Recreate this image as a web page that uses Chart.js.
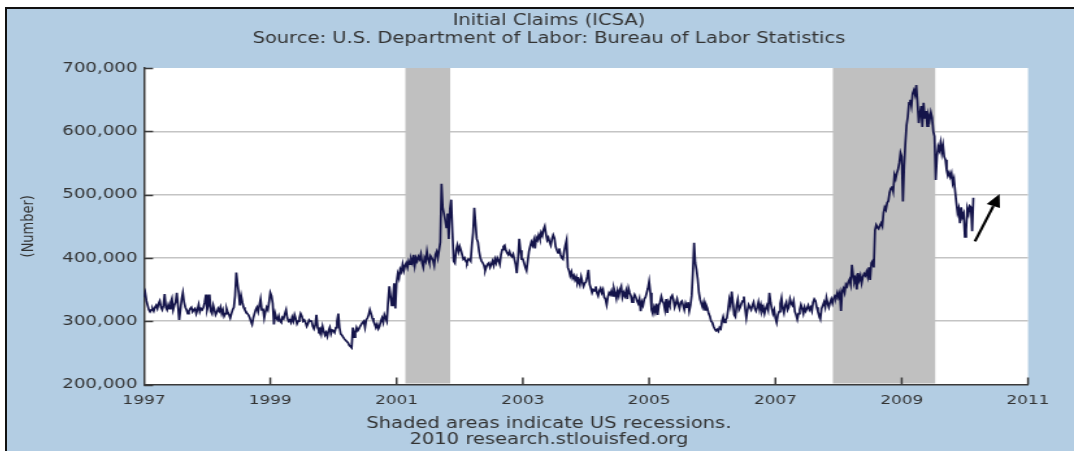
<!DOCTYPE html>
<html>
<head>
<meta charset="utf-8">
<script src="https://cdn.jsdelivr.net/npm/chart.js@4.4.1/dist/chart.umd.min.js"></script>
<style>
html,body{margin:0;padding:0;background:#fff;width:1076px;height:451px;overflow:hidden;}
#frame{position:absolute;left:5px;top:7px;width:1067px;height:442px;border-top:2px solid #111;border-left:2px solid #111;background:#b3cde3;overflow:hidden;}
#stretch{position:absolute;left:0;top:0;width:821px;height:442px;transform:scaleX(1.29963);transform-origin:0 0;}
</style>
</head>
<body>
<div id="frame"><div id="stretch"><canvas id="c" width="821" height="442"></canvas></div></div>
<script>
// Weekly initial claims, thousands
const claims1997 = [338,345,332,325,318,315,318,320,316,322,325,320,328,332,322,318,325,343,322,318,326,320,330,336,318,325,330,345,325,302,318,335,345,330,322,318,312,316,320,322,315,318,320,312,318,326,315,320,318,322,330,342];
const claims1998 = [318,325,342,316,312,325,318,310,314,320,316,322,312,318,308,312,320,314,310,305,312,318,322,340,377,360,345,325,340,330,322,318,315,312,310,306,300,295,305,312,318,322,315,325,335,318,320,305,315,322,318,330];
const claims1999 = [345,340,328,295,312,305,302,308,300,298,306,304,312,318,305,300,302,298,306,300,310,304,296,300,305,312,308,300,302,298,292,296,302,300,300,292,288,294,310,290,285,288,280,292,284,278,282,276,285,290,280,286];
const claims2000 = [285,282,290,300,312,290,280,278,275,272,270,268,266,262,260,258,290,275,282,290,285,288,292,295,298,300,290,302,305,310,318,312,305,300,296,290,295,288,292,300,305,298,310,305,300,330,355,340,325,335,360,320];
const claims2001 = [362,375,368,382,378,390,380,388,392,385,395,390,398,392,405,388,400,395,402,398,406,392,385,400,395,410,398,392,403,400,396,388,405,410,400,412,425,517,480,470,460,448,470,430,478,492,440,395,392,412,420,410];
const claims2002 = [418,412,405,398,400,395,392,398,398,395,420,440,479,455,430,425,410,400,395,392,388,380,386,390,392,385,390,395,388,398,392,400,396,390,405,413,418,420,412,408,405,410,404,402,406,398,390,376,398,430,412,398];
const claims2003 = [398,392,385,380,395,410,418,425,420,428,415,432,428,436,430,440,435,445,450,438,428,432,425,420,430,436,431,418,412,408,415,405,400,398,410,420,428,385,380,372,378,368,372,365,370,360,365,358,370,362,355,360];
const claims2004 = [362,370,381,358,352,345,350,348,355,345,340,348,352,345,350,338,335,326,338,345,342,348,340,352,345,336,348,340,350,355,338,345,340,348,335,352,345,340,330,336,342,338,332,328,335,316,330,325,335,338,345,352];
const claims2005 = [363,345,318,312,322,315,328,310,325,330,339,332,328,318,335,313,330,325,338,341,334,322,328,335,326,320,330,332,325,318,328,322,330,316,325,340,376,424,392,381,366,345,334,328,322,330,318,325,320,312,308,300];
const claims2006 = [298,292,288,285,287,284,290,288,300,307,298,302,305,318,334,325,347,330,310,307,325,334,318,322,328,332,339,320,305,318,326,322,318,325,330,320,316,322,330,318,326,316,322,312,320,325,318,345,330,320,312,318];
const claims2007 = [305,298,310,315,328,337,320,313,325,330,318,322,335,328,325,332,315,310,303,312,318,326,320,312,322,316,320,325,318,322,316,330,335,332,322,315,310,304,320,325,330,322,337,328,322,330,335,328,336,340,338,345];
const claims2008 = [338,345,316,348,352,345,358,355,362,366,358,389,372,362,368,350,376,365,372,360,370,375,372,378,370,385,365,392,395,385,444,452,448,446,451,455,450,471,480,476,487,490,503,510,513,505,531,525,534,540,550,566];
const claims2009 = [560,489,545,582,610,623,645,650,640,660,665,658,673,645,613,628,640,607,645,620,632,608,625,618,630,622,600,592,523,560,576,570,582,566,578,560,555,539,530,535,528,534,518,525,505,487,471,478,455,480,465,470];
const claims2010 = [433,444,478,470,482,480,442,495];

const seriesYears = [1997,1998,1999,2000,2001,2002,2003,2004,2005,2006,2007,2008,2009,2010];
const seriesByYear = [claims1997,claims1998,claims1999,claims2000,claims2001,claims2002,claims2003,claims2004,claims2005,claims2006,claims2007,claims2008,claims2009,claims2010];

const xTickYears = [1997,1999,2001,2003,2005,2007,2009,2011];
const yTickValues = [200000,300000,400000,500000,600000,700000];

const recessionStarts = [2001.14, 2007.91];
const recessionEnds = [2001.85, 2009.53];

const arrowTail = [2010.16, 426000];
const arrowTip = [2010.55, 501000];

const titleLines = ['Initial Claims (ICSA)', 'Source: U.S. Department of Labor: Bureau of Labor Statistics'];
const footerLines = ['Shaded areas indicate US recessions.', '2010 research.stlouisfed.org'];
const yAxisTitle = '(Number)';

const points = [];
seriesYears.forEach((yr, k) => {
  seriesByYear[k].forEach((v, i) => points.push({x: yr + i / 52, y: v * 1000}));
});

Chart.defaults.font.family = "'DejaVu Sans', sans-serif";

const framePlugin = {
  id: 'framePlugin',
  beforeDraw(chart) {
    const {ctx, chartArea: a} = chart;
    ctx.save();
    ctx.fillStyle = '#ffffff';
    ctx.fillRect(a.left, a.top, a.right - a.left, a.bottom - a.top);
    ctx.restore();
  },
  beforeDatasetsDraw(chart) {
    const {ctx, chartArea: a, scales} = chart;
    ctx.save();
    ctx.fillStyle = '#c0c0c0';
    recessionStarts.forEach((s, i) => {
      const x0 = scales.x.getPixelForValue(s);
      const x1 = scales.x.getPixelForValue(recessionEnds[i]);
      ctx.fillRect(x0, a.top, x1 - x0, a.bottom - a.top - 1);
    });
    ctx.restore();
  },
  afterDraw(chart) {
    const {ctx, chartArea: a, scales} = chart;
    ctx.save();
    ctx.strokeStyle = '#3a3a3a';
    ctx.lineWidth = 1.5;
    ctx.beginPath();
    scales.y.ticks.forEach(t => {
      const py = Math.round(scales.y.getPixelForValue(t.value)) + 0.5;
      ctx.moveTo(a.left, py);
      ctx.lineTo(a.left + 7, py);
    });
    scales.x.ticks.forEach((t, i) => {
      if (i === 0) return;
      const px = scales.x.getPixelForValue(t.value);
      ctx.moveTo(px, a.bottom);
      ctx.lineTo(px, a.bottom - 7);
    });
    ctx.stroke();

    // annotation arrow
    const x1 = scales.x.getPixelForValue(arrowTail[0]);
    const y1 = scales.y.getPixelForValue(arrowTail[1]);
    const x2 = scales.x.getPixelForValue(arrowTip[0]);
    const y2 = scales.y.getPixelForValue(arrowTip[1]);
    const dx = x2 - x1, dy = y2 - y1;
    const len = Math.hypot(dx, dy);
    const ux = dx / len, uy = dy / len;
    const L = 13, W = 5.5;
    const bx = x2 - ux * L, by = y2 - uy * L;
    ctx.strokeStyle = '#000';
    ctx.fillStyle = '#000';
    ctx.lineWidth = 2.2;
    ctx.beginPath();
    ctx.moveTo(x1, y1);
    ctx.lineTo(bx, by);
    ctx.stroke();
    ctx.beginPath();
    ctx.moveTo(x2, y2);
    ctx.lineTo(bx - uy * W, by + ux * W);
    ctx.lineTo(bx + uy * W, by - ux * W);
    ctx.closePath();
    ctx.fill();
    ctx.restore();
  }
};

new Chart(document.getElementById('c'), {
  type: 'line',
  data: {
    datasets: [{
      data: points,
      xAxisID: 'x',
      yAxisID: 'y',
      borderColor: '#14144a',
      borderWidth: 1.7,
      pointRadius: 0,
      tension: 0,
      fill: false
    }]
  },
  options: {
    responsive: false,
    animation: false,
    events: [],
    layout: {padding: {left: 13, right: 0, top: 0, bottom: 0}},
    plugins: {
      legend: {display: false},
      tooltip: {enabled: false},
      title: {
        display: true,
        text: titleLines,
        color: '#333333',
        font: {size: 15, weight: 'normal', lineHeight: 17.5 / 15},
        padding: {top: 3.5, bottom: 20.5}
      },
      subtitle: {
        display: true,
        position: 'bottom',
        text: footerLines,
        color: '#333333',
        font: {size: 15, weight: 'normal', lineHeight: 16 / 15},
        padding: {top: 0, bottom: 3}
      }
    },
    scales: {
      x: {
        type: 'linear',
        min: 1997,
        max: 2011,
        afterBuildTicks: s => { s.ticks = xTickYears.map(v => ({value: v})); },
        afterFit: s => { s.height = 31.5; },
        grid: {display: false, drawTicks: false},
        border: {display: true, color: '#3a3a3a', width: 1.5},
        ticks: {
          color: '#333333',
          font: {size: 13},
          padding: 8,
          maxRotation: 0,
          autoSkip: false,
          callback: v => String(v)
        }
      },
      y: {
        type: 'linear',
        position: 'left',
        min: 200000,
        max: 700000,
        afterBuildTicks: s => { s.ticks = yTickValues.map(v => ({value: v})); },
        afterFit: s => { s.width = 92.4; },
        grid: {
          drawTicks: false,
          lineWidth: 1.5,
          color: c => (c.tick && c.tick.value > 200000 && c.tick.value < 700000) ? '#c4c4c4' : 'rgba(0,0,0,0)'
        },
        border: {display: true, color: '#3a3a3a', width: 1.5},
        ticks: {
          color: '#333333',
          font: {size: 14},
          padding: 5,
          callback: v => Number(v).toLocaleString('en-US')
        },
        title: {
          display: true,
          text: yAxisTitle,
          color: '#333333',
          font: {size: 13},
          padding: {top: -4, bottom: 0}
        }
      },
      yRight: {
        type: 'linear',
        position: 'right',
        min: 200000,
        max: 700000,
        afterFit: s => { s.width = 35.4; },
        grid: {display: false, drawTicks: false},
        border: {display: false},
        ticks: {display: false}
      }
    }
  },
  plugins: [framePlugin]
});
</script>
</body>
</html>
